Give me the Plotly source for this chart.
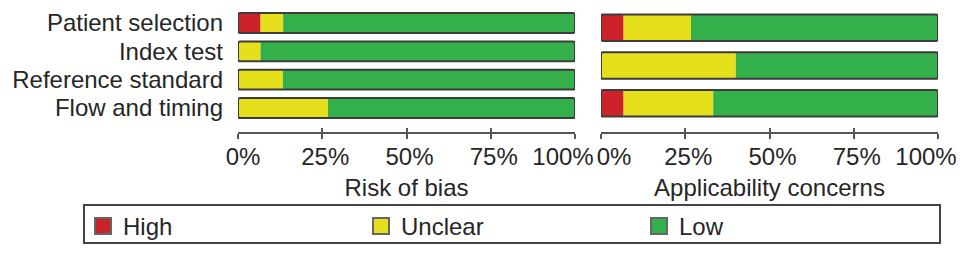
import plotly.graph_objects as go

domains = ["Patient selection", "Index test", "Reference standard", "Flow and timing"]
tick_vals = [0, 25, 50, 75, 100]
tick_text = ["0%", "25%", "50%", "75%", "100%"]

# Risk of bias (%)
rob_high = [6.7, 0.0, 0.0, 0.0]
rob_unclear = [6.7, 6.7, 13.3, 26.7]
rob_low = [86.6, 93.3, 86.7, 73.3]

# Applicability concerns (%) - no flow and timing
app_high = [6.7, 0.0, 6.7, None]
app_unclear = [20.0, 40.0, 26.6, None]
app_low = [73.3, 60.0, 66.7, None]

categories = ["High", "Unclear", "Low"]
colors = {"High": "#cc2229", "Unclear": "#e6df1c", "Low": "#33b04a"}
outline = "#3c3c3c"

W, H = 969, 260
FONT = "Liberation Sans, Arial, sans-serif"
TXT = "#262626"
FS = 24
AXC = "#555"

fig = go.Figure()


def add_panel(high, unclear, low, xa, ya):
    keep = [i for i in range(len(domains)) if high[i] is not None]
    ys = [domains[i] for i in keep]
    segs = {"High": [high[i] for i in keep], "Unclear": [unclear[i] for i in keep],
            "Low": [low[i] for i in keep]}
    base = [0.0] * len(keep)
    for name in categories:
        vals = segs[name]
        fig.add_trace(go.Bar(
            y=ys, x=vals, base=list(base), orientation="h",
            marker=dict(color=colors[name], line=dict(width=0)),
            width=0.7, showlegend=False, xaxis=xa, yaxis=ya, name=name,
            hoverinfo="skip",
        ))
        base = [b + v for b, v in zip(base, vals)]
    fig.add_trace(go.Bar(
        y=ys, x=base, base=[0.0] * len(keep), orientation="h",
        marker=dict(color="rgba(0,0,0,0)", line=dict(color=outline, width=2), cornerradius=2),
        width=0.7, showlegend=False, xaxis=xa, yaxis=ya, hoverinfo="skip",
    ))


add_panel(rob_high, rob_unclear, rob_low, "x", "y")
add_panel(app_high, app_unclear, app_low, "x2", "y2")

# legend entries
for name in categories:
    fig.add_trace(go.Scatter(
        x=[None], y=[None], mode="markers", name=name,
        marker=dict(symbol="square", size=16, color=colors[name], line=dict(color="#666", width=2)),
        xaxis="x", yaxis="y",
    ))

px = lambda p: p / W
py = lambda p: 1 - p / H

ydom = [py(122.2), py(8.8)]
axpos = py(133)
lx = [px(238), px(575)]
rx = [px(601), px(938)]

tf = dict(size=FS, color=TXT, family=FONT)
base_ax = dict(range=[0, 100], showgrid=False, zeroline=False, anchor="free", position=axpos,
               automargin=False, fixedrange=True, ticklabeloverflow="allow")

layout_axes = {}
axis_num = [3]


def new_axis(main, dom, yref, **kw):
    n = axis_num[0]
    axis_num[0] += 1
    name = f"xaxis{n}"
    layout_axes[name] = dict(domain=dom, overlaying=main, **base_ax, **kw)
    fig.add_trace(go.Scatter(x=[None], y=[None], xaxis=f"x{n}", yaxis=yref, showlegend=False))


for main, dom, yref, title, lo_shift in [("x", lx, "y", "Risk of bias", 5),
                                          ("x2", rx, "y2", "Applicability concerns", 13)]:
    # upward half of tick marks
    new_axis(main, dom, yref, tickvals=tick_vals, ticks="inside", ticklen=5, tickwidth=2,
             tickcolor=AXC, showticklabels=False, showline=False)
    # middle labels + title
    new_axis(main, dom, yref, tickvals=tick_vals[1:-1], ticktext=tick_text[1:-1], ticks="",
             showline=False, tickfont=tf, ticklabelshift=3, ticklabelstandoff=7,
             title=dict(text=title, standoff=10, font=tf))
    # end labels, nudged inward as in the reference
    new_axis(main, dom, yref, tickvals=tick_vals[:1], ticktext=tick_text[:1], ticks="",
             showline=False, tickfont=tf, ticklabelshift=lo_shift, ticklabelstandoff=7)
    new_axis(main, dom, yref, tickvals=tick_vals[-1:], ticktext=tick_text[-1:], ticks="",
             showline=False, tickfont=tf, ticklabelshift=-12, ticklabelstandoff=7)

main_ax = dict(tickvals=tick_vals, showline=True, linecolor=AXC, linewidth=2, ticks="outside",
               ticklen=5, tickwidth=2, tickcolor=AXC, showticklabels=False, **base_ax)

fig.update_layout(
    width=W, height=H, margin=dict(l=0, r=0, t=0, b=0, autoexpand=False),
    paper_bgcolor="white", plot_bgcolor="white",
    barmode="overlay",
    font=dict(family=FONT, color=TXT, size=FS),
    xaxis=dict(domain=lx, **main_ax),
    xaxis2=dict(domain=rx, **main_ax),
    yaxis=dict(domain=ydom, categoryorder="array", categoryarray=domains, autorange="reversed",
               tickmode="array", tickvals=domains, ticktext=domains,
               showgrid=False, zeroline=False, showline=False, ticks="", ticklabelstandoff=14,
               tickfont=tf, anchor="x", fixedrange=True, automargin=False),
    yaxis2=dict(domain=ydom, categoryorder="array", categoryarray=domains, autorange="reversed",
                showgrid=False, zeroline=False, showline=False, ticks="", showticklabels=False,
                anchor="x2", fixedrange=True, automargin=False),
    legend=dict(orientation="h", x=px(83), y=py(204), xanchor="left", yanchor="top",
                borderwidth=0, bgcolor="rgba(0,0,0,0)", font=tf,
                entrywidth=233, entrywidthmode="pixels", itemsizing="trace", tracegroupgap=0),
    showlegend=True,
    shapes=[dict(type="rect", xref="paper", yref="paper", x0=px(84), x1=px(940),
                 y0=py(243), y1=py(205), line=dict(color="#444", width=2),
                 fillcolor="rgba(0,0,0,0)", layer="below")],
)
fig.update_layout(**layout_axes)

fig.write_html("out.html", config={"displayModeBar": False, "staticPlot": True},
               post_script="document.body.style.margin='0';document.body.style.overflow='hidden';")
